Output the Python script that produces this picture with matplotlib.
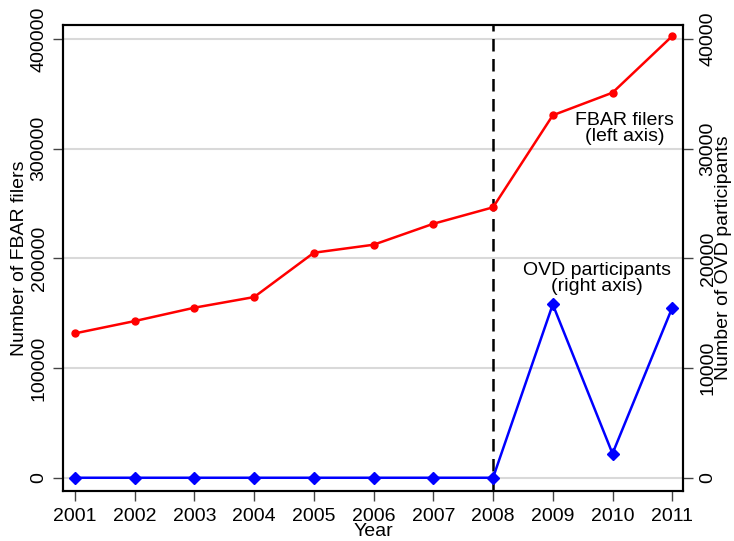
import matplotlib
matplotlib.use("Agg")
import matplotlib.pyplot as plt

plt.rcParams['font.family'] = ['Liberation Sans', 'DejaVu Sans']

# data
years = [2001, 2002, 2003, 2004, 2005, 2006, 2007, 2008, 2009, 2010, 2011]
fbar_filers = [131600, 142800, 155000, 164700, 205100, 212400, 231500, 246500, 330400, 351000, 402600]
ovd_participants = [0, 0, 0, 0, 0, 0, 0, 0, 15800, 2200, 15500]
left_ticks = [0, 100000, 200000, 300000, 400000]
right_ticks = [0, 10000, 20000, 30000, 40000]

fs = 14
fig = plt.figure(figsize=(7.34, 5.41), dpi=100)
ax = fig.add_axes([0.0858, 0.0924, 0.8447, 0.8614])

# grid
for t in left_ticks:
    ax.axhline(t, color='#d9d9d9', lw=1.5, zorder=0)

ax.plot(years, fbar_filers, color='#ff0000', lw=1.8, marker='o', ms=5, zorder=3)
ax.axvline(2008, color='black', lw=1.8, ls=(0, (5, 3)), zorder=2)

ax.set_xlim(2000.8, 2011.18)
ax.set_ylim(-12100, 412700)
ax.set_xticks(years)
ax.set_yticks(left_ticks)
ax.set_yticklabels([str(t) for t in left_ticks], rotation=90, va='center')
ax.tick_params(axis='both', labelsize=fs, length=7, width=1, color='#444444', pad=5)
ax.tick_params(axis='y', pad=4)
ax.set_xlabel('Year', fontsize=fs, labelpad=-1)
ax.set_ylabel('Number of FBAR filers', fontsize=fs, labelpad=2)

ax2 = ax.twinx()
ax2.plot(years, ovd_participants, color='#0000ff', lw=1.8, marker='D', ms=6.5, zorder=3)
ax2.set_ylim(-1210, 41270)
ax2.set_yticks(right_ticks)
ax2.set_yticklabels([str(t) for t in right_ticks], rotation=90, va='center')
ax2.tick_params(axis='y', labelsize=fs, length=7, width=1, color='#444444', pad=5)
ax2.set_ylabel('Number of OVD participants', fontsize=fs, labelpad=-1)

for a in (ax, ax2):
    for s in a.spines.values():
        s.set_linewidth(1.5)
        s.set_color('black')

ax.text(2010.2, 318500, 'FBAR filers\n(left axis)', fontsize=fs, ha='center', va='center',
        linespacing=0.95)
ax.text(2009.74, 181500, 'OVD participants\n(right axis)', fontsize=fs, ha='center', va='center',
        linespacing=0.95)

fig.savefig('out.png', dpi=100)
